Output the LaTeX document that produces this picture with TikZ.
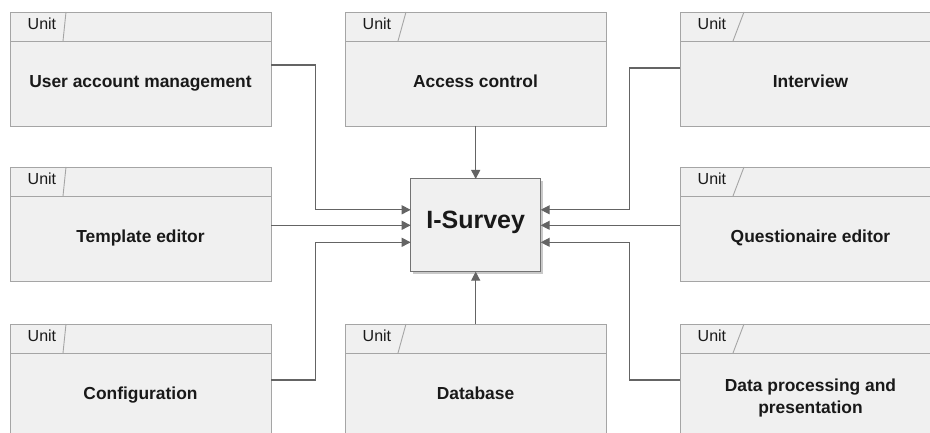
\documentclass[tikz,border=0pt]{standalone}
\usepackage{fontspec}
\setmainfont{Liberation Sans}
\usetikzlibrary{arrows.meta,shadows,calc}
\definecolor{boxfill}{RGB}{240,240,240}
\definecolor{boxline}{RGB}{165,165,165}
\definecolor{linkcol}{RGB}{100,100,100}
\definecolor{coreline}{RGB}{115,115,115}
\definecolor{txt}{RGB}{25,25,25}
\tikzset{
  unitbox/.style={draw=boxline, fill=boxfill, line width=0.9pt, minimum width=261pt,
    minimum height=114pt, anchor=north west, inner sep=0pt, outer sep=0pt},
  hdr/.style={draw=boxline, line width=0.9pt},
  unitlbl/.style={anchor=base west, inner sep=0pt, font=\fontsize{16}{18}\selectfont, text=txt},
  bodylbl/.style={font=\bfseries\fontsize{17.4}{21.6}\selectfont, text=txt, align=center,
    inner sep=0pt, text height=0.72em, text depth=0pt},
  twolbl/.style={font=\bfseries\fontsize{17.4}{21.6}\selectfont, text=txt, align=center, inner sep=0pt},
  link/.style={draw=linkcol, line width=1.2pt, -{Triangle[length=9pt,width=9pt]}},
  core/.style={draw=coreline, fill=boxfill, line width=1pt, minimum width=130pt,
    minimum height=92.7pt, inner sep=0pt, outer sep=0pt,
    font=\bfseries\fontsize{25}{30}\selectfont, text=txt, text height=0.72em, text depth=0pt,
    drop shadow={shadow xshift=2pt, shadow yshift=-2pt, opacity=0.35, fill=black!60}}
}
\newcommand\unitblock[4]{%
  \node[unitbox] (#1) at (#2,#3) {};
  \draw[hdr] ($(#1.north west)+(0,29)$) -- ($(#1.north east)+(0,29)$);
  \draw[hdr] ($(#1.north west)+(#4,0)$) -- ($(#1.north west)+(53,29)$);
  \node[unitlbl] (#1-u) at ($(#1.north west)+(17.5,17.5)$) {Unit};
}
\begin{document}
\begin{tikzpicture}[x=1pt,y=-1pt]
\useasboundingbox (0,0) rectangle (930,433);
\clip (0,0) rectangle (930,433);
\fill[white] (0,0) rectangle (930,433);

\unitblock{uam}{10}{12}{56}
\unitblock{acc}{345}{12}{61}
\unitblock{intv}{680}{12}{64}
\unitblock{tmpl}{10}{167}{56}
\unitblock{qed}{680}{167}{64}
\unitblock{cfg}{10}{324}{56}
\unitblock{db}{345}{324}{61}
\unitblock{dpp}{680}{324}{64}

\node[bodylbl] (uam-t) at ($(uam.north west)+(130.5,71.5)$) {User account management};
\node[bodylbl] (acc-t) at ($(acc.north west)+(130.5,71.5)$) {Access control};
\node[bodylbl] (intv-t) at ($(intv.north west)+(130.5,71.5)$) {Interview};
\node[bodylbl] (tmpl-t) at ($(tmpl.north west)+(130.5,71.5)$) {Template editor};
\node[bodylbl] (qed-t) at ($(qed.north west)+(130.5,71.5)$) {Questionaire editor};
\node[bodylbl] (cfg-t) at ($(cfg.north west)+(130.5,71.5)$) {Configuration};
\node[bodylbl] (db-t) at ($(db.north west)+(130.5,71.5)$) {Database};
\node[twolbl] (dpp-t) at ($(dpp.north west)+(130.5,74)$) {Data processing and\\presentation};

\node[core] (core) at (475.7,225.3) {I-Survey};

% left side
\draw[link] ($(uam.east)+(0,-4)$) -| ($(core.west)+(-95,-15.5)$) -- ($(core.west)+(0,-15.5)$);
\draw[link] (tmpl.east |- core.west) -- (core.west);
\draw[link] ($(cfg.east)+(0,-1)$) -| ($(core.west)+(-95,17)$) -- ($(core.west)+(0,17)$);
% top / bottom
\draw[link] (acc.south -| core.north) -- (core.north);
\draw[link] (db.north -| core.south) -- (core.south);
% right side
\draw[link] ($(intv.west)+(0,-1)$) -| ($(core.east)+(89,-15.5)$) -- ($(core.east)+(0,-15.5)$);
\draw[link] (qed.west |- core.east) -- (core.east);
\draw[link] ($(dpp.west)+(0,-1)$) -| ($(core.east)+(89,17)$) -- ($(core.east)+(0,17)$);
\end{tikzpicture}
\end{document}
